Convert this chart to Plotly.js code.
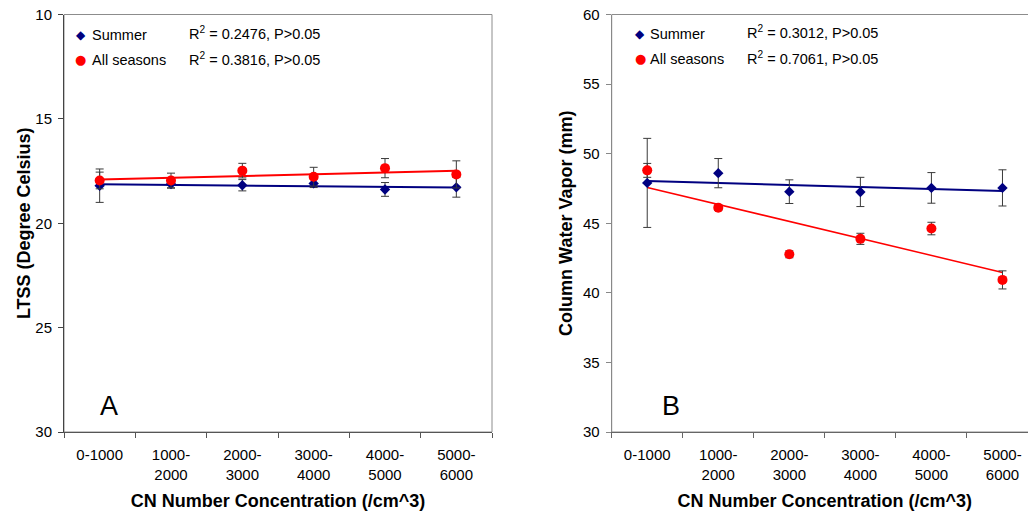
<!DOCTYPE html>
<html>
<head>
<meta charset="utf-8">
<script src="https://cdn.plot.ly/plotly-3.0.1.min.js"></script>
<style>
html,body{margin:0;padding:0;overflow:hidden;background:#fff;}
#chart{width:1040px;height:516px;}
</style>
</head>
<body>
<div id="chart"></div>
<script>
// ---- data ----
const categories = ['0-1000','1000-2000','2000-3000','3000-4000','4000-5000','5000-6000'];
const tickLabels = ['0-1000','1000-<br>2000','2000-<br>3000','3000-<br>4000','4000-<br>5000','5000-<br>6000'];

const ltssSummer    = [18.20, 18.12, 18.18, 18.09, 18.38, 18.28];
const ltssSummerErr = [0.80, 0.20, 0.27, 0.20, 0.33, 0.47];
const ltssAll       = [17.95, 17.95, 17.48, 17.77, 17.36, 17.66];
const ltssAllErr    = [0.40, 0.35, 0.35, 0.45, 0.46, 0.65];

const cwvSummer     = [47.90, 48.60, 47.27, 47.25, 47.54, 47.54];
const cwvSummerErr  = [3.20, 1.05, 0.85, 1.05, 1.10, 1.30];
const cwvAll        = [48.80, 46.12, 42.77, 43.88, 44.62, 40.93];
const cwvAllErr     = [0.50, 0.20, 0.25, 0.40, 0.45, 0.65];

const seriesNames = ['Summer', 'All seasons'];
const r2Ltss = ['R<sup>2</sup> = 0.2476, P&gt;0.05', 'R<sup>2</sup> = 0.3816, P&gt;0.05'];
const r2Cwv  = ['R<sup>2</sup> = 0.3012, P&gt;0.05', 'R<sup>2</sup> = 0.7061, P&gt;0.05'];

// ---- helpers ----
const NAVY = '#000080', RED = '#ff0000', ERR = '#3a3a3a';
const FONT = 'Liberation Sans, Arial, sans-serif';

function linFit(vals){
  const n = vals.length;
  const xs = vals.map((_, i) => i);
  const mx = xs.reduce((a,b)=>a+b,0)/n, my = vals.reduce((a,b)=>a+b,0)/n;
  let sxy = 0, sxx = 0;
  xs.forEach((x,i)=>{ sxy += (x-mx)*(vals[i]-my); sxx += (x-mx)*(x-mx); });
  const b = sxy/sxx, a = my - b*mx;
  return xs.map(x => a + b*x);
}

function trend(vals, color, width, xa, ya){
  return {x: categories, y: linFit(vals), type:'scatter', mode:'lines',
    line:{color:color, width:width}, xaxis:xa, yaxis:ya, showlegend:false, hoverinfo:'skip'};
}
function points(vals, errs, name, symbol, color, size, xa, ya){
  return {x: categories, y: vals, type:'scatter', mode:'markers', name:name,
    marker:{symbol:symbol, color:color, size:size, line:{width:0}},
    error_y:{type:'data', array:errs, visible:true, color:ERR, thickness:1, width:4},
    xaxis:xa, yaxis:ya, showlegend:false};
}

const traces = [
  trend(ltssSummer, NAVY, 2, 'x', 'y'),
  trend(ltssAll, RED, 2, 'x', 'y'),
  points(ltssSummer, ltssSummerErr, seriesNames[0], 'diamond', NAVY, 8, 'x', 'y'),
  points(ltssAll, ltssAllErr, seriesNames[1], 'circle', RED, 10, 'x', 'y'),
  trend(cwvSummer, NAVY, 2, 'x2', 'y2'),
  trend(cwvAll, RED, 1.5, 'x2', 'y2'),
  points(cwvSummer, cwvSummerErr, seriesNames[0], 'diamond', NAVY, 8, 'x2', 'y2'),
  points(cwvAll, cwvAllErr, seriesNames[1], 'circle', RED, 10, 'x2', 'y2')
];

const W = 1040, H = 516;
const px = v => v / W, py = v => 1 - v / H;

function xAxis(domain, lineColor){
  return {domain:domain, type:'category', range:[-0.5, 5.5],
    tickvals:categories, ticktext:tickLabels, tickson:'boundaries',
    ticks:'outside', ticklen:5, tickcolor:lineColor, showline:true, linecolor:lineColor, linewidth:1,
    showgrid:false, zeroline:false, tickfont:{family:FONT, size:15, color:'#000'}, ticklabelstandoff:9,
    title:{text:'CN Number Concentration (/cm^3)', font:{family:FONT, size:18, color:'#000', weight:'bold'}, standoff:12},
    fixedrange:true};
}
function yAxis(range, title, lineColor, anchor, standoff){
  return {domain:[1-432/H, 1-14.5/H], range:range, tickmode:'linear', tick0:10, dtick:5,
    ticks:'outside', ticklen:5, tickcolor:lineColor, showline:true, linecolor:lineColor, linewidth:1,
    showgrid:false, zeroline:false, tickfont:{family:FONT, size:15, color:'#000'}, ticklabelstandoff:3,
    title:{text:title, font:{family:FONT, size:18, color:'#000', weight:'bold'}, standoff:standoff},
    anchor:anchor, fixedrange:true};
}

const layout = {
  width:W, height:H, margin:{l:0, r:0, t:0, b:0},
  paper_bgcolor:'#fff', plot_bgcolor:'#fff', showlegend:false,
  xaxis: Object.assign(xAxis([px(64), px(492)], '#555'), {anchor:'y'}),
  yaxis: yAxis([30, 10], 'LTSS (Degree Celsius)', '#444', 'x', 0),
  xaxis2: Object.assign(xAxis([px(611.7), px(1038)], '#666'), {anchor:'y2'}),
  yaxis2: yAxis([30, 60], 'Column Water Vapor (mm)', '#888', 'x2', 5),
  shapes: [
    {type:'rect', xref:'x domain', yref:'y domain', x0:0, x1:1, y0:0, y1:1, line:{color:'#8c8c8c', width:1}, layer:'below'},
    {type:'rect', xref:'x2 domain', yref:'y2 domain', x0:0, x1:1, y0:0, y1:1, line:{color:'#8c8c8c', width:1}, layer:'below'}
  ],
  annotations: []
};

function legendBlock(markX, textX, r2X, r2Texts, yTop, yBot){
  const A = layout.annotations;
  const common = {xref:'paper', yref:'paper', showarrow:false, yanchor:'middle'};
  A.push(Object.assign({}, common, {x:px(markX), y:py(yTop), xanchor:'center', text:'◆', font:{family:'DejaVu Sans', size:12, color:NAVY}}));
  A.push(Object.assign({}, common, {x:px(markX), y:py(yBot), xanchor:'center', text:'●', font:{family:'DejaVu Sans', size:13, color:RED}}));
  A.push(Object.assign({}, common, {x:px(textX), y:py(yTop), xanchor:'left', text:seriesNames[0], font:{family:FONT, size:14.5, color:'#000'}}));
  A.push(Object.assign({}, common, {x:px(textX), y:py(yBot), xanchor:'left', text:seriesNames[1], font:{family:FONT, size:14.5, color:'#000'}}));
  A.push(Object.assign({}, common, {x:px(r2X), y:py(yTop-2), xanchor:'left', text:r2Texts[0], font:{family:FONT, size:14.5, color:'#000'}}));
  A.push(Object.assign({}, common, {x:px(r2X), y:py(yBot-1), xanchor:'left', text:r2Texts[1], font:{family:FONT, size:14.5, color:'#000'}}));
}
legendBlock(80.5, 90, 187, r2Ltss, 35, 60);
legendBlock(640, 647.5, 745, r2Cwv, 34, 59);

layout.annotations.push({xref:'paper', yref:'paper', x:px(109), y:py(406), xanchor:'center', yanchor:'middle', showarrow:false, text:'A', font:{family:FONT, size:27, color:'#000'}});
layout.annotations.push({xref:'paper', yref:'paper', x:px(671), y:py(406), xanchor:'center', yanchor:'middle', showarrow:false, text:'B', font:{family:FONT, size:27, color:'#000'}});

Plotly.newPlot('chart', traces, layout, {staticPlot:true, displayModeBar:false});
</script>
</body>
</html>
